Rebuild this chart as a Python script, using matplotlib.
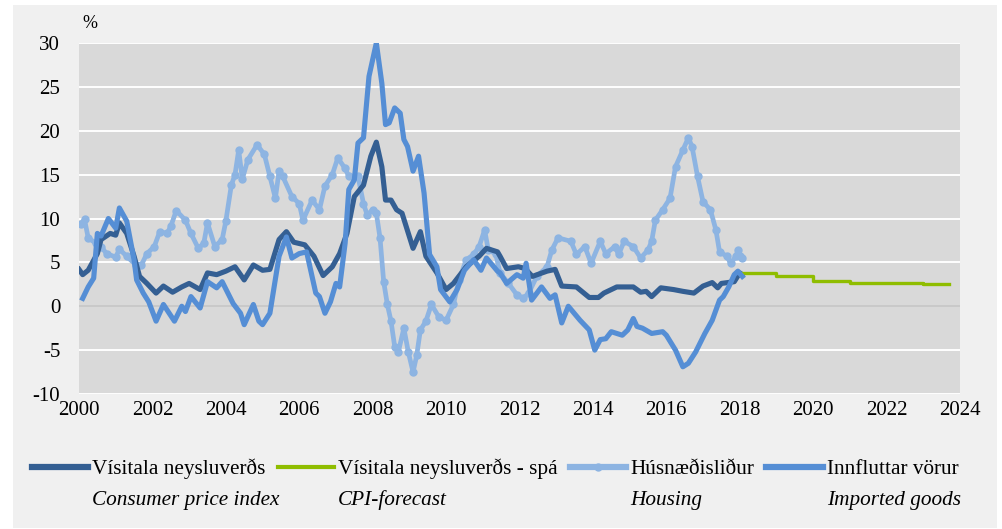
import matplotlib
matplotlib.use("Agg")
import matplotlib.pyplot as plt
from matplotlib.lines import Line2D
from matplotlib.patches import Rectangle

plt.rcParams['font.family'] = ['Liberation Serif', 'DejaVu Serif']

# year-on-year change, %
cpi_t = [2000.0, 2000.1, 2000.25, 2000.5, 2000.6, 2000.85, 2001.0, 2001.1, 2001.3, 2001.5,
         2001.65, 2001.85, 2002.1, 2002.3, 2002.55, 2002.8, 2003.0, 2003.3, 2003.5, 2003.75,
         2004.0, 2004.25, 2004.5, 2004.75, 2005.0, 2005.2, 2005.45, 2005.65, 2005.85, 2006.15,
         2006.4, 2006.65, 2006.9, 2007.1, 2007.3, 2007.5, 2007.75, 2007.95, 2008.1, 2008.25,
         2008.35, 2008.5, 2008.65, 2008.8, 2009.1, 2009.3, 2009.45, 2009.75, 2010.0, 2010.2,
         2010.55, 2010.9, 2011.1, 2011.4, 2011.47, 2011.65, 2011.97, 2012.15, 2012.35, 2012.75,
         2012.97, 2013.15, 2013.55, 2013.9, 2014.15, 2014.3, 2014.65, 2015.1, 2015.3, 2015.45,
         2015.6, 2015.85, 2016.2, 2016.45, 2016.75, 2017.0, 2017.25, 2017.4, 2017.5, 2017.85,
         2018.0, 2018.07]
cpi_v = [4.2, 3.6, 4.1, 6.0, 7.6, 8.3, 8.1, 9.5, 8.3, 5.7,
         3.4, 2.6, 1.5, 2.3, 1.6, 2.2, 2.6, 1.9, 3.8, 3.6,
         4.0, 4.5, 3.0, 4.7, 4.1, 4.2, 7.6, 8.5, 7.3, 7.0,
         5.7, 3.5, 4.5, 6.0, 8.3, 12.5, 13.8, 17.1, 18.7, 15.9,
         12.1, 12.1, 11.0, 10.6, 6.6, 8.5, 5.7, 3.8, 1.9, 2.6,
         4.5, 5.7, 6.6, 6.2, 5.7, 4.3, 4.5, 4.3, 3.4, 4.0,
         4.2, 2.3, 2.2, 1.0, 1.0, 1.5, 2.2, 2.2, 1.6, 1.7,
         1.1, 2.1, 1.9, 1.7, 1.5, 2.3, 2.7, 2.1, 2.6, 2.8,
         3.8, 3.6]

fc_t = [2018.07, 2019.0, 2020.0, 2021.0, 2022.0, 2023.0, 2023.7]
fc_v = [3.8, 3.4, 2.9, 2.7, 2.6, 2.5, 2.5]

house_t = [2000.05, 2000.15, 2000.25, 2000.45, 2000.6, 2000.75, 2001.0, 2001.1, 2001.3, 2001.55,
           2001.7, 2001.85, 2002.05, 2002.2, 2002.4, 2002.5, 2002.65, 2002.9, 2003.05, 2003.25,
           2003.4, 2003.5, 2003.7, 2003.9, 2004.0, 2004.15, 2004.25, 2004.35, 2004.45, 2004.6,
           2004.85, 2005.05, 2005.2, 2005.35, 2005.45, 2005.55, 2005.8, 2006.0, 2006.1, 2006.35,
           2006.55, 2006.7, 2006.9, 2007.05, 2007.25, 2007.35, 2007.6, 2007.75, 2007.85, 2008.0,
           2008.1, 2008.2, 2008.3, 2008.4, 2008.5, 2008.6, 2008.7, 2008.85, 2008.97, 2009.1,
           2009.2, 2009.3, 2009.45, 2009.6, 2009.8, 2010.0, 2010.2, 2010.35, 2010.55, 2010.75,
           2010.9, 2011.05, 2011.15, 2011.35, 2011.47, 2011.7, 2011.93, 2012.1, 2012.25, 2012.47,
           2012.75, 2012.88, 2013.05, 2013.4, 2013.55, 2013.78, 2013.95, 2014.2, 2014.35, 2014.6,
           2014.7, 2014.85, 2015.1, 2015.3, 2015.5, 2015.6, 2015.7, 2015.9, 2016.1, 2016.25,
           2016.45, 2016.6, 2016.7, 2016.85, 2017.0, 2017.2, 2017.35, 2017.45, 2017.65, 2017.75,
           2017.9, 2017.95, 2018.0, 2018.07]
house_v = [9.4, 9.9, 7.8, 7.2, 6.8, 6.0, 5.6, 6.5, 5.7, 4.7,
           4.7, 6.0, 6.8, 8.5, 8.3, 9.1, 10.9, 9.8, 8.3, 6.6,
           7.2, 9.5, 6.8, 7.6, 9.7, 13.8, 15.0, 17.8, 14.5, 16.7,
           18.4, 17.3, 14.8, 12.3, 15.4, 14.8, 12.5, 11.7, 9.8, 12.1,
           11.0, 13.7, 15.0, 16.9, 15.7, 14.8, 14.8, 11.7, 10.4, 11.0,
           10.6, 7.8, 2.8, 0.2, -1.7, -4.6, -5.2, -2.5, -5.2, -7.5,
           -5.6, -2.7, -1.7, 0.2, -1.2, -1.6, 0.2, 3.0, 5.3, 5.9,
           6.8, 8.7, 6.4, 6.0, 3.8, 2.6, 1.3, 0.9, 1.5, 3.4,
           4.5, 6.4, 7.8, 7.4, 5.9, 6.8, 4.9, 7.4, 6.0, 6.8,
           5.9, 7.4, 6.8, 5.5, 6.4, 7.4, 9.8, 11.0, 12.3, 15.9,
           17.8, 19.2, 18.2, 14.8, 11.9, 11.0, 8.7, 6.2, 5.7, 4.9,
           5.7, 6.4, 5.7, 5.5]

imp_t = [2000.1, 2000.25, 2000.4, 2000.5, 2000.6, 2000.8, 2001.0, 2001.1, 2001.3, 2001.5,
         2001.57, 2001.75, 2001.9, 2002.1, 2002.3, 2002.6, 2002.8, 2002.9, 2003.05, 2003.3,
         2003.5, 2003.75, 2003.9, 2004.2, 2004.4, 2004.5, 2004.75, 2004.9, 2005.0, 2005.2,
         2005.45, 2005.65, 2005.8, 2006.0, 2006.2, 2006.45, 2006.55, 2006.7, 2006.85, 2007.0,
         2007.1, 2007.25, 2007.35, 2007.5, 2007.6, 2007.75, 2007.9, 2008.1, 2008.25, 2008.35,
         2008.45, 2008.6, 2008.75, 2008.85, 2008.95, 2009.1, 2009.25, 2009.4, 2009.55, 2009.75,
         2009.85, 2010.1, 2010.3, 2010.5, 2010.75, 2010.95, 2011.1, 2011.4, 2011.47, 2011.65,
         2011.93, 2012.1, 2012.18, 2012.33, 2012.6, 2012.83, 2012.97, 2013.15, 2013.33, 2013.65,
         2013.9, 2014.05, 2014.2, 2014.35, 2014.5, 2014.8, 2014.95, 2015.1, 2015.2, 2015.35,
         2015.6, 2015.9, 2016.0, 2016.25, 2016.45, 2016.6, 2016.8, 2017.05, 2017.25, 2017.45,
         2017.55, 2017.7, 2017.85, 2017.95, 2018.07]
imp_v = [0.9, 2.2, 3.2, 8.3, 8.0, 10.0, 8.9, 11.2, 9.7, 5.3,
         3.0, 1.5, 0.5, -1.7, 0.2, -1.7, 0.0, -0.6, 1.1, -0.2,
         2.8, 2.1, 2.8, 0.3, -0.8, -2.1, 0.2, -1.7, -2.1, -0.8,
         5.7, 7.9, 5.5, 6.0, 6.2, 1.5, 1.1, -0.8, 0.5, 2.6,
         2.2, 7.2, 13.3, 14.4, 18.6, 19.2, 26.2, 30.0, 25.4, 20.7,
         20.9, 22.6, 22.0, 19.0, 18.2, 15.4, 17.1, 12.9, 5.9, 4.5,
         1.9, 0.5, 1.9, 4.1, 5.3, 4.1, 5.5, 4.0, 3.8, 2.6,
         3.6, 3.2, 4.9, 0.7, 2.2, 0.9, 1.3, -1.9, 0.0, -1.6,
         -2.7, -5.0, -3.8, -3.7, -2.9, -3.3, -2.7, -1.4, -2.3, -2.5,
         -3.1, -2.9, -3.3, -5.0, -6.9, -6.5, -5.2, -3.1, -1.6, 0.7,
         1.1, 2.2, 3.6, 4.0, 3.4]

labels = ["Vísitala neysluverðs", "Vísitala neysluverðs - spá", "Húsnæðisliður", "Innfluttar vörur"]
labels_en = ["Consumer price index", "CPI-forecast", "Housing", "Imported goods"]

c_cpi = "#345f93"
c_fc = "#8fbd00"
c_house = "#8db4e2"
c_imp = "#558ed5"

fig = plt.figure(figsize=(10.02, 5.29), dpi=100)
fig.patch.set_facecolor("white")
fig.add_artist(Rectangle((13 / 1002, 1 / 529), 984 / 1002, 523 / 529,
                         transform=fig.transFigure, facecolor="#f0f0f0", edgecolor="none", zorder=-10))

ax = fig.add_axes([79 / 1002, 1 - 394 / 529, 881 / 1002, 351 / 529])
ax.set_facecolor("#d9d9d9")

ax.plot(house_t, house_v, color=c_house, lw=3.4, marker="o", ms=5, solid_joinstyle="round", zorder=3)
ax.plot(cpi_t, cpi_v, color=c_cpi, lw=3.7, solid_joinstyle="round", zorder=4)
ax.plot(imp_t, imp_v, color=c_imp, lw=3.7, solid_joinstyle="round", zorder=5)
ax.step(fc_t, fc_v, where="post", color=c_fc, lw=2.4, zorder=4)

ax.set_xlim(2000, 2024)
ax.set_ylim(-10, 30)
ax.set_xticks(range(2000, 2025, 2))
ax.set_yticks(range(-10, 31, 5))
ax.set_yticklabels([str(v) for v in range(-10, 31, 5)])
ax.grid(axis="y", color="white", lw=1.4, zorder=0)
ax.axhline(0, color="#bfbfbf", lw=1.2, zorder=1)
ax.set_axisbelow(True)
for s in ax.spines.values():
    s.set_visible(False)
ax.tick_params(length=0, labelsize=15, colors="black")
ax.tick_params(axis="y", pad=13.5)
ax.tick_params(axis="x", pad=5)
fig.text(90 / 1002, 1 - 24 / 529, "%", fontsize=13, ha="center", va="center")

handles = [
    Line2D([], [], color=c_cpi, lw=4.5),
    Line2D([], [], color=c_fc, lw=3),
    Line2D([], [], color=c_house, lw=4.5, marker="o", ms=5),
    Line2D([], [], color=c_imp, lw=4.5),
]
leg = fig.legend(handles, labels, ncol=4, loc="center", bbox_to_anchor=(495 / 1002, 1 - 469 / 529),
                 frameon=False, fontsize=15.3, handlelength=2.65, handletextpad=0.19,
                 columnspacing=0.58, borderpad=0)

fig.canvas.draw()
r = fig.canvas.get_renderer()
for t, en in zip(leg.get_texts(), labels_en):
    bb = t.get_window_extent(r)
    fig.text(bb.x0 / fig.bbox.width, 1 - 500 / 529, en, fontsize=15.3, style="italic", va="center")

fig.savefig("out.png", dpi=100)
